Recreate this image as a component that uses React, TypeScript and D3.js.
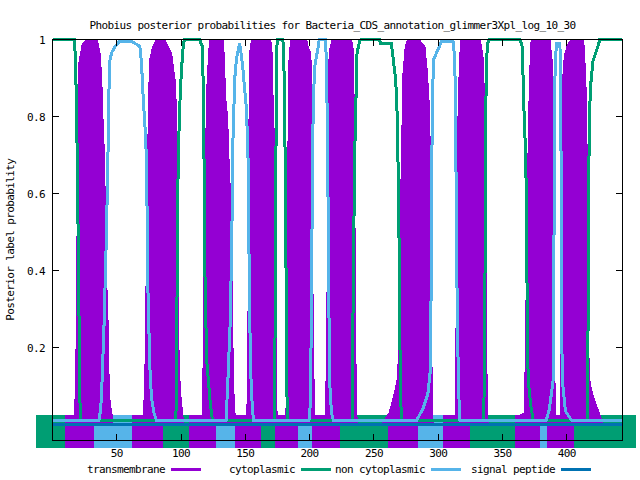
import React from 'react'
import * as d3 from 'd3'

type Pt = [number, number]

const title = 'Phobius posterior probabilities for Bacteria_CDS_annotation_glimmer3Xpl_log_10_30'
const yLabel = 'Posterior label probability'
const xTicks = [50, 100, 150, 200, 250, 300, 350, 400]
const yTicks = [0.2, 0.4, 0.6, 0.8, 1]
const legendLabels = ['transmembrane', 'cytoplasmic', 'non cytoplasmic', 'signal peptide']
const seqLength = 443

// residue, posterior probability
const transmembrane: Pt[] = [
  [0, 0], [16.5, 0], [17.5, 0.03], [18.5, 0.2], [19.3, 0.5], [20, 0.8], [20.7, 0.94], [23.3, 0.987], [26.4, 1],
  [34.7, 1], [36.8, 0.965], [38.1, 0.9], [39.3, 0.77], [40.3, 0.7], [41.2, 0.5], [42.2, 0.35], [43.2, 0.25],
  [44, 0.08], [45, 0.05], [46, 0.03], [47, 0],
  [70, 0], [71, 0.03], [72, 0.12], [72.8, 0.3], [73.5, 0.6], [74.3, 0.72], [75, 0.85], [75.7, 0.948], [78.2, 0.982],
  [80.9, 1], [87.3, 1], [88.6, 0.99], [92.5, 0.965], [95.1, 0.896], [96.4, 0.81], [97.2, 0.6], [97.8, 0.3],
  [98.4, 0.15], [99.5, 0.08], [101, 0.03], [102, 0],
  [115.5, 0], [116.5, 0.02], [117.3, 0.15], [117.8, 0.29], [118.6, 0.6], [119.8, 0.8], [120.5, 0.9], [121.5, 0.95],
  [122.3, 1], [132.7, 1], [133.5, 0.95], [134.5, 0.85], [136, 0.8], [137.5, 0.65], [138.4, 0.6], [139.5, 0.4],
  [140.2, 0.2], [141, 0.08], [141.8, 0.03], [142.5, 0],
  [150.5, 0], [151.5, 0.05], [152.3, 0.3], [152.9, 0.6], [153.2, 0.95], [154.2, 0.985], [155.5, 1], [169.5, 1],
  [170.3, 0.985], [170.8, 0.95], [171.5, 0.83], [172.9, 0.69], [173.5, 0.3], [174.2, 0.05], [175, 0],
  [181.5, 0], [182.3, 0.1], [183, 0.5], [183.7, 0.91], [184.5, 0.97], [185.8, 1], [197.5, 1], [198.8, 0.98],
  [200.1, 0.97], [201.4, 0.93], [202, 0.7], [202.5, 0.3], [203.5, 0.05], [204.5, 0],
  [212.5, 0], [213.3, 0.2], [213.9, 0.4], [214.4, 0.69], [214.8, 0.9], [215.5, 0.97], [217.7, 1], [232.5, 1],
  [233.5, 0.98], [234.1, 0.95], [234.8, 0.69], [235.5, 0.3], [236.2, 0.05], [237, 0],
  [256, 0], [258, 0.01], [262, 0.03], [266, 0.08], [268.5, 0.12], [269.5, 0.2], [270.5, 0.5], [271.6, 0.69],
  [272.8, 0.91], [274.5, 0.98], [276.5, 1], [285.6, 1], [287, 0.99], [289.5, 0.982], [291.3, 0.92], [292.9, 0.83],
  [293.9, 0.69], [294.6, 0.3], [295.3, 0.05], [296, 0],
  [313.5, 0], [314.2, 0.3], [314.8, 0.6], [315.5, 0.78], [316.2, 0.88], [317, 0.96], [318, 1], [332.3, 1],
  [333.6, 0.98], [334.9, 0.95], [335.4, 0.896], [336.3, 0.78], [337, 0.5], [337.5, 0.25], [338, 0.05], [338.8, 0],
  [360.5, 0], [361, 0.02], [367, 0.03], [368.2, 0.2], [369, 0.5], [370, 0.69], [371.2, 0.9], [372.5, 1],
  [386.8, 1], [387, 0.97], [388.1, 0.97], [389, 0.9], [389.5, 0.85], [390, 0.55], [390.5, 0.15], [391, 0.05], [391.5, 0],
  [395, 0], [395.5, 0.2], [395.8, 0.5], [396.6, 0.88], [398.4, 0.96], [400.9, 0.987], [403.6, 1], [412.6, 1],
  [413.5, 0.98], [414.5, 0.9], [415.2, 0.85], [416, 0.6], [416.7, 0.3], [417.3, 0.13], [418.5, 0.1], [420, 0.08],
  [423, 0.05], [425.6, 0.025], [427, 0.01], [428, 0], [443, 0],
]

const cytoplasmic: Pt[] = [
  [0, 1], [17, 1], [18, 0.94], [19, 0.75], [20.3, 0.4], [21.2, 0.07], [22, 0.01],
  [96, 0.01], [96.6, 0.2], [97.2, 0.5], [97.8, 0.69], [98.9, 0.82], [100, 0.9], [101.3, 0.97], [102.5, 1],
  [114.7, 1], [115.5, 0.99], [116.8, 0.98], [117.3, 0.85], [117.8, 0.71], [118.6, 0.39], [119.9, 0.17],
  [122.5, 0.065], [124, 0.02], [125, 0.01],
  [172.5, 0.01], [173.3, 0.3], [173.8, 0.69], [174.4, 0.98], [175.2, 1], [179.1, 1], [179.8, 0.98], [180.4, 0.85],
  [181.3, 0.6], [182, 0.2], [182.6, 0.02], [183.5, 0.01],
  [233, 0.01], [233.8, 0.3], [235, 0.69], [236.9, 0.966], [239, 0.996], [240.3, 1], [254.5, 1], [255, 0.99],
  [263.6, 0.99], [265, 0.95], [266.8, 0.9], [267.7, 0.85], [268.5, 0.75], [269.5, 0.5], [270.3, 0.2], [271, 0.05], [272, 0.01],
  [335.5, 0.01], [336.3, 0.3], [336.9, 0.69], [337.4, 0.94], [338.6, 0.99], [339.5, 1], [363.4, 1], [364.7, 0.99],
  [365.5, 0.98], [366.2, 0.88], [367, 0.79], [368.2, 0.69], [369, 0.4], [370, 0.117], [372, 0.05], [374, 0.01],
  [416, 0.01], [416.7, 0.3], [417.3, 0.69], [418.3, 0.87], [420.4, 0.944], [423, 0.97], [425, 0.99], [425.6, 1], [443, 1],
]

const nonCytoplasmic: Pt[] = [
  [0, 0.01], [36, 0.01], [37, 0.03], [38.1, 0.07], [40.1, 0.26], [42, 0.5], [43.2, 0.71], [43.8, 0.853], [44.6, 0.944],
  [45.9, 0.965], [48.4, 0.98], [52.3, 0.996], [61.4, 0.996], [64, 0.99], [67.9, 0.983], [69.2, 0.94], [70.5, 0.853],
  [72, 0.77], [73.1, 0.69], [74.3, 0.34], [74.9, 0.26], [75.7, 0.15], [77, 0.07], [79, 0.03], [81, 0.01],
  [135, 0.01], [136.5, 0.12], [138.4, 0.28], [139.7, 0.54], [140.2, 0.72], [141.8, 0.9], [143.1, 0.95], [145.6, 0.99],
  [147, 0.957], [148.2, 0.92], [149.5, 0.87], [150.9, 0.82], [152.1, 0.69], [153, 0.4], [154, 0.15], [155.5, 0.04], [156.5, 0.01],
  [199.5, 0.01], [200.5, 0.05], [201.5, 0.3], [202.2, 0.69], [203, 0.85], [204, 0.93], [206.6, 0.98], [207.5, 1],
  [212.3, 1], [213, 0.95], [213.7, 0.8], [214.3, 0.6], [215, 0.3], [215.8, 0.1], [217, 0.03], [218.5, 0.01],
  [283, 0.01], [288, 0.04], [292, 0.08], [294.2, 0.15], [294.7, 0.5], [295.3, 0.76], [296, 0.9], [296.5, 0.948],
  [298.6, 0.965], [301.2, 0.983], [302.5, 0.996], [311.5, 0.996], [312, 0.99], [313, 0.93], [313.7, 0.75], [314.2, 0.5],
  [315, 0.25], [316, 0.08], [317, 0.01],
  [384, 0.01], [386.5, 0.04], [389.5, 0.117], [390, 0.4], [390.5, 0.8], [391, 0.93], [392, 0.99], [394.6, 0.99],
  [395.3, 0.94], [395.8, 0.5], [396.3, 0.2], [396.5, 0.117], [399, 0.035], [404, 0.01], [443, 0.01],
]

const signalPeptide: Pt[] = [[0, 0], [443, 0]]

// predicted topology strip below the curves: start, end, class
const topology: [number, number, string][] = [
  [0, 10, 'cyto'], [10, 32, 'tm'], [32, 62, 'non'], [62, 86, 'tm'], [86, 106, 'cyto'], [106, 127, 'tm'],
  [127, 142, 'non'], [142, 162, 'tm'], [162, 173, 'cyto'], [173, 191, 'tm'], [191, 202, 'non'], [202, 224, 'tm'],
  [224, 261, 'cyto'], [261, 284, 'tm'], [284, 304, 'non'], [304, 325, 'tm'], [325, 360, 'cyto'], [360, 379, 'tm'],
  [379, 385, 'non'], [385, 406, 'tm'], [406, 441, 'cyto'],
]
const topologyLevel = -0.019

const colors: Record<string, string> = {
  tm: '#9400d3',
  cyto: '#009e73',
  non: '#56b4e9',
  signal: '#0072b2',
}

const font = {
  fontFamily: '"DejaVu Sans Mono", monospace',
  fontSize: 11,
  letterSpacing: -0.62,
}

export default function App() {
  const width = 640
  const height = 480
  const plot = { left: 52.5, right: 622, top: 39.5, bottom: 440 }

  const x = d3.scaleLinear().domain([0, seqLength]).range([plot.left, plot.right])
  const y = d3.scaleLinear().domain([-0.04, 1]).range([plot.bottom, plot.top])

  const line = d3.line<Pt>().x(d => x(d[0])).y(d => y(d[1]))
  const area = d3.area<Pt>().x(d => x(d[0])).y0(y(0)).y1(d => y(d[1]))

  const bandY = y(topologyLevel)
  const bandW = 33
  const ends = [topology[0], topology[topology.length - 1]]
  const tick = 6

  const legendColors = [colors.tm, colors.cyto, colors.non, colors.signal]

  return (
    <svg width={width} height={height} style={{ position: 'absolute', left: 0, top: 0, background: '#fff' }}>
      <rect width={width} height={height} fill="#fff" />
      <g shapeRendering="crispEdges">
        {/* topology strip, outer ends squared off */}
        {ends.map((s, i) => (
          <line key={'e' + i} x1={x(s[0])} x2={x(s[1])} y1={bandY} y2={bandY}
            stroke={colors[s[2]]} strokeWidth={bandW} strokeLinecap="square" />
        ))}
        {topology.map((s, i) => (
          <line key={i} x1={x(s[0])} x2={x(s[1])} y1={bandY} y2={bandY}
            stroke={colors[s[2]]} strokeWidth={bandW} />
        ))}

        <path d={area(transmembrane) ?? ''} fill={colors.tm} stroke={colors.tm} strokeWidth={1.5} />
        <path d={line(cytoplasmic) ?? ''} fill="none" stroke={colors.cyto} strokeWidth={3} />
        <path d={line(nonCytoplasmic) ?? ''} fill="none" stroke={colors.non} strokeWidth={3} />
        <path d={line(signalPeptide) ?? ''} fill="none" stroke={colors.signal} strokeWidth={3} />

        {/* border and ticks */}
        <rect x={plot.left} y={plot.top} width={plot.right - plot.left} height={plot.bottom - plot.top}
          fill="none" stroke="#000" strokeWidth={1} />
        {xTicks.map(t => (
          <g key={t}>
            <line x1={x(t)} x2={x(t)} y1={plot.bottom} y2={plot.bottom - tick} stroke="#000" />
            <line x1={x(t)} x2={x(t)} y1={plot.top} y2={plot.top + tick} stroke="#000" />
          </g>
        ))}
        {yTicks.map(t => (
          <g key={t}>
            <line x1={plot.left} x2={plot.left + tick} y1={y(t)} y2={y(t)} stroke="#000" />
            <line x1={plot.right} x2={plot.right - tick} y1={y(t)} y2={y(t)} stroke="#000" />
          </g>
        ))}

        {/* legend samples */}
        {legendLabels.map((l, i) => (
          <line key={l} x1={171 + i * 130} x2={201 + i * 130} y1={469.5} y2={469.5}
            stroke={legendColors[i]} strokeWidth={3} />
        ))}
      </g>

      <g style={font} fill="#000">
        <text x={332.5} y={29} textAnchor="middle">{title}</text>
        {xTicks.map(t => (
          <text key={t} x={x(t)} y={457} textAnchor="middle">{t}</text>
        ))}
        {yTicks.map(t => (
          <text key={t} x={45} y={y(t) + 4} textAnchor="end">{t === 1 ? '1' : t.toFixed(1)}</text>
        ))}
        <text transform={`translate(14,${(plot.top + plot.bottom) / 2}) rotate(-90)`} textAnchor="middle">{yLabel}</text>
        {legendLabels.map((l, i) => (
          <text key={l} x={165 + i * 130} y={473} textAnchor="end">{l}</text>
        ))}
      </g>
    </svg>
  )
}
